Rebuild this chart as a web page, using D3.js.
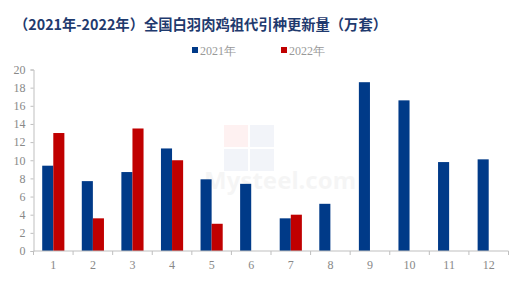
<!DOCTYPE html>
<html><head><meta charset="utf-8">
<script src="https://cdn.jsdelivr.net/npm/d3@7"></script>
<style>body{margin:0;background:#fff}svg{display:block}</style>
</head><body>
<svg id="c" width="511" height="304"></svg>
<script>
const months = ["1","2","3","4","5","6","7","8","9","10","11","12"];
const series = ["2021年","2022年"];
const v2021 = [9.4,7.7,8.7,11.3,7.9,7.4,3.6,5.2,18.6,16.6,9.8,10.1];
const v2022 = [13.0,3.6,13.5,10.0,3.0,null,4.0,null,null,null,null,null];
const yTicks = [0,2,4,6,8,10,12,14,16,18,20];
const colors = ["#003A88","#C00000"];
const title = "（2021年-2022年）全国白羽肉鸡祖代引种更新量（万套）";

const svg = d3.select("#c");
const m = {l:33.5, r:2.5, t:69.5, b:53};
const W = 511, H = 304;
const x = d3.scaleBand().domain(months).range([m.l, W - m.r]).paddingInner(0).paddingOuter(0);
const bw = x.bandwidth();
const xs = d3.scaleBand().domain(series).range([bw*0.22, bw*0.78]).padding(0);
const y = d3.scaleLinear().domain([0,20]).range([251, m.t]);

// watermark
const wm = svg.append("g").attr("opacity",0.05);
wm.append("rect").attr("x",224).attr("y",125).attr("width",24).attr("height",22).attr("fill","#e00");
wm.append("rect").attr("x",250).attr("y",125).attr("width",24).attr("height",22).attr("fill","#1a3a9a");
wm.append("rect").attr("x",224).attr("y",149).attr("width",24).attr("height",22).attr("fill","#1a3a9a");
wm.append("rect").attr("x",250).attr("y",149).attr("width",24).attr("height",22).attr("fill","#1a3a9a");
wm.append("text").attr("x",204).attr("y",189).attr("font-family","Noto Sans").attr("font-weight","bold").attr("font-size",24).attr("fill","#555").text("Mysteel.com");

// bars
const data = [];
months.forEach((mo,i)=>{
  [v2021[i], v2022[i]].forEach((v,j)=>{ if(v!=null) data.push({mo, s:series[j], v, c:colors[j]}); });
});
svg.append("g").selectAll("rect").data(data).join("rect")
  .attr("x", d=>x(d.mo)+xs(d.s))
  .attr("width", xs.bandwidth())
  .attr("y", d=>y(d.v))
  .attr("height", d=>y(0)-y(d.v))
  .attr("fill", d=>d.c);

// axes
const yAxis = d3.axisLeft(y).tickValues(yTicks).tickSize(3).tickPadding(5);
const gy = svg.append("g").attr("transform",`translate(${m.l},0)`).call(yAxis);
gy.selectAll("text").attr("font-family","Liberation Serif").attr("font-size",12).attr("fill","#888");
gy.selectAll("line,path").attr("stroke","#bfbfbf");

const gx = svg.append("g").attr("transform",`translate(0,${y(0)})`);
gx.append("line").attr("x1",m.l).attr("x2",W-m.r).attr("stroke","#bfbfbf");
const bounds = months.map(mo=>x(mo)).concat([x(months[11])+bw]);
gx.selectAll("line.t").data(bounds).join("line").attr("class","t")
  .attr("x1",d=>d).attr("x2",d=>d).attr("y1",0).attr("y2",4).attr("stroke","#bfbfbf");
gx.selectAll("text").data(months).join("text")
  .attr("x",d=>x(d)+bw/2).attr("y",18)
  .attr("text-anchor","middle").attr("font-family","Liberation Serif").attr("font-size",12).attr("fill","#888")
  .text(d=>d);

// title
svg.append("text").attr("x",14).attr("y",30).attr("font-family","Noto Sans CJK SC").attr("font-weight","bold")
  .attr("font-size",14.3).attr("fill","#1F3A6E").text(title);

// legend
const lg = svg.append("g");
const lx = [192, 281];
series.forEach((s,i)=>{
  lg.append("rect").attr("x",lx[i]).attr("y",47).attr("width",6).attr("height",6).attr("fill",colors[i]);
  lg.append("text").attr("x",lx[i]+8).attr("y",54.5).attr("font-family","Liberation Serif").attr("font-size",12)
    .attr("fill","#999").text(s);
});
</script>
</body></html>
